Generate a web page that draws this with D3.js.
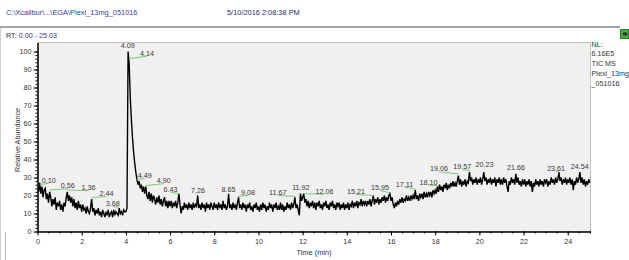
<!DOCTYPE html>
<meta charset="utf-8">
<style>
body{margin:0;background:#fff;}
svg text{font-family:"Liberation Sans",Arial,sans-serif;}
</style>
<svg id="chart" width="629" height="260"></svg>
<script src="https://d3js.org/d3.v7.min.js"></script>
<script>
// TIC trace, one reading every 0.05 min from 0.00 to 25.00 (relative abundance, %)
// one row = one minute
const rtStep = 0.05
const tic = [
  24, 22, 27, 21, 25, 19, 23, 24, 18, 21, 16, 22, 19, 14, 18, 15, 19, 12, 16, 14,
  17, 12, 15, 11, 16, 14, 19, 22, 17, 20, 16, 19, 14, 18, 13, 16, 12, 17, 13, 15,
  11, 15, 12, 13, 10, 14, 11, 10, 13, 18, 11, 13, 9, 12, 10, 13, 9, 11, 8, 12,
  10, 8, 11, 9, 12, 8, 10, 11, 8, 12, 9, 11, 10, 9, 13, 10, 11, 9, 12, 11,
  11, 13, 100, 93, 74, 62, 52, 44, 38, 33, 29, 26, 28, 24, 26, 22, 25, 21, 25, 20,
  18, 22, 17, 21, 16, 20, 18, 15, 19, 16, 20, 15, 18, 14, 17, 19, 14, 17, 13, 17,
  14, 17, 13, 16, 14, 17, 13, 16, 21, 15, 10, 14, 12, 16, 13, 15, 12, 16, 13, 15,
  12, 16, 13, 15, 14, 20, 13, 15, 12, 16, 13, 15, 11, 16, 13, 15, 12, 16, 14, 12,
  16, 13, 15, 12, 16, 13, 15, 12, 17, 13, 15, 12, 14, 21, 13, 15, 12, 16, 13, 15,
  12, 16, 19, 13, 15, 12, 16, 13, 15, 11, 15, 13, 16, 12, 14, 11, 15, 13, 16, 12,
  14, 11, 15, 12, 16, 13, 15, 11, 14, 12, 16, 13, 15, 11, 15, 13, 16, 12, 14, 12,
  16, 12, 15, 11, 14, 12, 16, 13, 15, 12, 16, 13, 15, 19, 13, 15, 12, 9, 21, 17,
  19, 21, 16, 18, 14, 17, 13, 16, 14, 17, 13, 16, 12, 16, 14, 17, 13, 15, 12, 16,
  14, 17, 13, 15, 12, 16, 14, 17, 13, 15, 12, 16, 14, 16, 12, 15, 13, 16, 12, 15,
  13, 16, 12, 15, 14, 17, 13, 16, 14, 17, 13, 16, 15, 18, 14, 17, 15, 17, 14, 17,
  15, 18, 14, 17, 20, 15, 18, 16, 19, 15, 18, 16, 19, 17, 20, 16, 19, 17, 20, 21,
  17, 19, 15, 13, 16, 14, 17, 15, 18, 16, 19, 16, 18, 17, 20, 17, 19, 17, 20, 18,
  20, 18, 23, 18, 20, 17, 21, 19, 21, 18, 22, 19, 21, 19, 22, 20, 22, 19, 23, 21,
  23, 21, 25, 22, 26, 23, 25, 22, 26, 24, 27, 23, 26, 24, 27, 25, 28, 25, 27, 25,
  28, 31, 26, 29, 25, 28, 26, 29, 25, 28, 27, 33, 28, 30, 26, 29, 27, 30, 26, 29,
  27, 30, 26, 29, 33, 28, 30, 26, 29, 27, 30, 26, 29, 27, 30, 25, 29, 27, 30, 26,
  29, 26, 30, 27, 29, 25, 22, 28, 26, 30, 27, 29, 26, 32, 27, 30, 26, 28, 25, 29,
  26, 29, 25, 28, 26, 29, 25, 28, 22, 27, 25, 29, 26, 28, 25, 29, 26, 28, 25, 29,
  27, 29, 25, 28, 26, 30, 27, 29, 26, 30, 27, 29, 33, 28, 30, 26, 29, 27, 30, 26,
  29, 27, 30, 26, 29, 23, 28, 26, 30, 27, 29, 33, 27, 30, 26, 29, 25, 28, 26, 29,
  27
]

// labelled peaks: retention time and apex height
const peakRt = ['0.10','0.56','1.36','2.44','3.68','4.09','4.14','4.49','4.90','6.43','7.26','8.65','9.08',
  '11.67','11.92','12.06','15.21','15.95','17.11','18.10','19.06','19.57','20.23','21.66','23.61','24.54']
const peakApex = [26, 23, 23, 19, 13.5, 100, 96, 29, 25.5, 21, 20, 20.5, 19.5,
  19.5, 21.5, 21, 20, 21.5, 23.5, 25.5, 32, 34, 34, 32.5, 33, 33]

// label placement relative to the apex (px), shifted ones get a green leader
const labelDx = [9, 18, 21, 15, -6, 0, 18, 8, 18, -9, 0, 0, 10, -17.5, 0, 20.5, -17.5, -10, -11, -9, -19.5, -7.5, 0, 0, -3, 0]
const labelDy = [-2, -2, 0, -1, -1, -3.5, -3, -1, -2.5, -2, -3, -3, -1.5, -1.5, -3, 0, -1.5, -3, -2.5, -1, -2.5, -1, -3, -3, -1.5, -3]

const xTicks = [0, 2, 4, 6, 8, 10, 12, 14, 16, 18, 20, 22, 24]
const yTicks = [0, 10, 20, 30, 40, 50, 60, 70, 80, 90, 100]
const infoLines = ['NL:', '6.16E5', 'TIC  MS', 'Plexi_13mg', '_051016']

const svg = d3.select('#chart')
const fs = 7.2

// header
svg.append('text').attr('x', 6).attr('y', 15).attr('font-size', 7.4).attr('fill', '#2f3f94')
  .text('C:\\Xcalibur\\...\\EGA\\Plexi_13mg_051016')
svg.append('text').attr('x', 227).attr('y', 15).attr('font-size', 7.4).attr('fill', '#1e2a6e')
  .text('5/10/2016 2:08:38 PM')
svg.append('rect').attr('x', 0).attr('y', 26).attr('width', 620).attr('height', 2).attr('fill', '#a4a4a4')
svg.append('line').attr('x1', 0.5).attr('x2', 0.5).attr('y1', 28).attr('y2', 260).attr('stroke', '#d0d0d0')
svg.append('line').attr('x1', 5.5).attr('x2', 5.5).attr('y1', 232).attr('y2', 260).attr('stroke', '#b8b8b8')

// status icon
svg.append('rect').attr('x', 620.5).attr('y', 29.5).attr('width', 8).attr('height', 9)
  .attr('fill', '#44b044').attr('stroke', '#2d7d2d')
svg.append('ellipse').attr('cx', 625).attr('cy', 34).attr('rx', 2.6).attr('ry', 1.8).attr('fill', '#333')

const rt = svg.append('text').attr('x', 6).attr('y', 37.5).attr('font-size', fs)
rt.append('tspan').attr('fill', '#333').text('RT: ')
rt.append('tspan').attr('fill', '#33339a').text('0.00 - 25.03')

// scales
const x = d3.scaleLinear().domain([0, 25.03]).range([37.5, 590.5])
const y = d3.scaleLinear().domain([0, 105]).range([231.5, 42.5])

svg.append('rect').attr('x', 38).attr('y', 42.5).attr('width', 552.5).attr('height', 189)
  .attr('fill', '#f0f0f0').attr('stroke', '#b4b4b4').attr('stroke-width', 0.8)

// axes
const styleAxis = g => {
  g.select('.domain').attr('stroke', '#000')
  g.selectAll('.tick line').attr('stroke', '#000')
  g.selectAll('.tick text').attr('font-size', fs).attr('fill', '#333').attr('font-family', '"Liberation Sans",Arial,sans-serif')
}
svg.append('g').attr('transform', 'translate(37.5,0)')
  .call(d3.axisLeft(y).tickValues(d3.range(0, 101, 2)).tickSize(2).tickSizeOuter(0).tickFormat(''))
  .call(styleAxis)
svg.append('g').attr('transform', 'translate(37.5,0)')
  .call(d3.axisLeft(y).tickValues(yTicks).tickSize(4).tickSizeOuter(0).tickPadding(2))
  .call(styleAxis)
svg.append('g').attr('transform', 'translate(0,231.5)')
  .call(d3.axisBottom(x).tickValues(d3.range(0, 25.01, 0.5)).tickSize(2).tickSizeOuter(0).tickFormat(''))
  .call(styleAxis)
svg.append('g').attr('transform', 'translate(0,231.5)')
  .call(d3.axisBottom(x).tickValues(xTicks).tickSize(4).tickSizeOuter(0).tickPadding(3))
  .call(styleAxis)

svg.append('text').attr('x', 314).attr('y', 255).attr('text-anchor', 'middle')
  .attr('font-size', 7.4).attr('fill', '#333').text('Time (min)')
svg.append('text').attr('transform', 'translate(19.5,140) rotate(-90)').attr('text-anchor', 'middle')
  .attr('font-size', 7.2).attr('fill', '#333').text('Relative Abundance')

// trace
svg.append('clipPath').attr('id', 'plot-clip').append('rect')
  .attr('x', 38).attr('y', 42).attr('width', 553).attr('height', 190)
svg.append('path')
  .datum(tic)
  .attr('clip-path', 'url(#plot-clip)')
  .attr('fill', 'none')
  .attr('stroke', '#000')
  .attr('stroke-width', 1.4)
  .attr('d', d3.line().x((d, i) => x(i * rtStep)).y(d => y(d)))

// peak labels and leaders
const peaks = peakRt.map((r, i) => ({rt: r, ax: x(+r), ay: y(peakApex[i]), dx: labelDx[i], dy: labelDy[i]}))
svg.append('g').selectAll('line').data(peaks.filter(p => Math.abs(p.dx) >= 3)).join('line')
  .attr('x1', p => p.ax).attr('y1', p => p.ay)
  .attr('x2', p => p.ax + p.dx).attr('y2', p => p.ay + p.dy + 0.5)
  .attr('stroke', '#7cc67c').attr('stroke-width', 1)
svg.append('g').selectAll('text').data(peaks).join('text')
  .attr('x', p => p.ax + p.dx).attr('y', p => p.ay + p.dy)
  .attr('text-anchor', 'middle').attr('font-size', fs).attr('fill', '#3a3434')
  .text(p => p.rt)

// info block on the right
svg.append('g').selectAll('text').data(infoLines).join('text')
  .attr('x', 591.5).attr('y', (d, i) => 46.5 + i * 9.8)
  .attr('font-size', fs).attr('fill', '#333')
  .text(d => d)
</script>
